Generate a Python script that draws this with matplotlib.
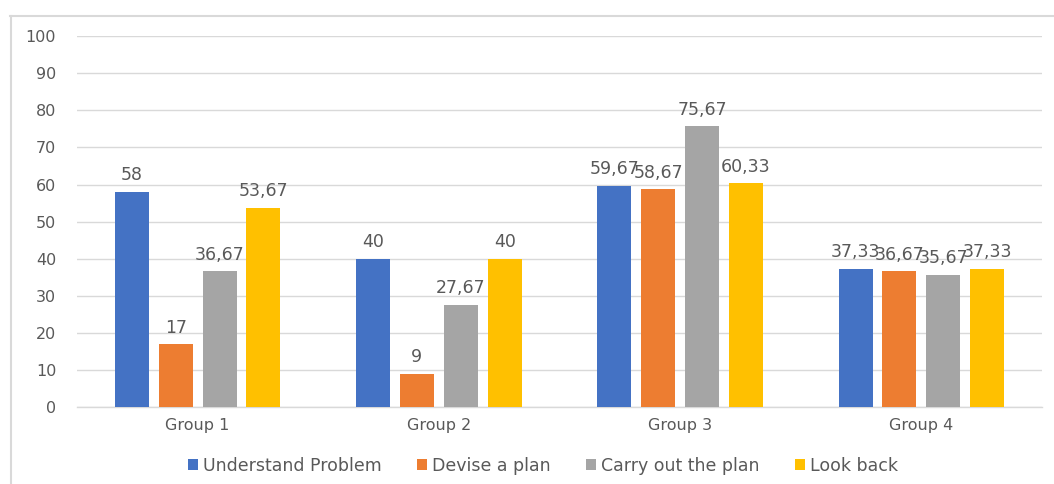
import matplotlib
matplotlib.use("Agg")
import matplotlib.pyplot as plt
from matplotlib.lines import Line2D
import numpy as np

plt.rcParams['font.family'] = ['DejaVu Sans']

groups = ["Group 1", "Group 2", "Group 3", "Group 4"]
series = ["Understand Problem", "Devise a plan", "Carry out the plan", "Look back"]
understand = [58, 40, 59.67, 37.33]
devise = [17, 9, 58.67, 36.67]
carry = [36.67, 27.67, 75.67, 35.67]
lookback = [53.67, 40, 60.33, 37.33]
values = [understand, devise, carry, lookback]
colors = ["#4472C4", "#ED7D31", "#A5A5A5", "#FFC000"]
yticks = [0, 10, 20, 30, 40, 50, 60, 70, 80, 90, 100]

W, H = 1054, 484
fig = plt.figure(figsize=(W / 100, H / 100), dpi=100)
ax = fig.add_axes([77 / W, (H - 407.3) / H, (1042 - 77) / W, (407.3 - 36) / H])

x = np.arange(len(groups))
step = 0.182
width = 0.141
offsets = (np.arange(len(series)) - 1.5) * step

def fmt(v):
    s = ("%.2f" % v).rstrip("0").rstrip(".")
    return s.replace(".", ",")

for i, (name, vals, col) in enumerate(zip(series, values, colors)):
    bars = ax.bar(x + offsets[i], vals, width, color=col, label=name, zorder=3)
    for b, v in zip(bars, vals):
        ax.annotate(fmt(v), (b.get_x() + b.get_width() / 2, v),
                    xytext=(0, 5.5), textcoords="offset points",
                    ha="center", va="bottom", fontsize=12.5, color="#595959", zorder=4)

ax.set_xlim(-0.5, 3.5)
ax.set_ylim(0, 100)
ax.set_yticks(yticks)
ax.set_xticks(x)
ax.set_xticklabels(groups)
ax.tick_params(axis="both", length=0, colors="#595959", labelsize=11.5)
ax.tick_params(axis="y", pad=15)
ax.tick_params(axis="x", pad=8)
ax.grid(axis="y", color="#D9D9D9", linewidth=1, zorder=0)
for s in ["top", "right", "left"]:
    ax.spines[s].set_visible(False)
ax.spines["bottom"].set_color("#D9D9D9")
ax.spines["bottom"].set_linewidth(1)

leg = fig.legend(loc="center", bbox_to_anchor=(543 / W, 1 - 466 / H), ncol=4,
                 frameon=False, fontsize=12.5, handlelength=0.6, handleheight=0.6,
                 handletextpad=0.3, columnspacing=2.0, labelcolor="#595959")

# outer chart border (top and left)
fig.add_artist(Line2D([10 / W, 1.0], [1 - 15.5 / H, 1 - 15.5 / H], transform=fig.transFigure,
                      color="#D9D9D9", linewidth=1.5))
fig.add_artist(Line2D([10.5 / W, 10.5 / W], [0, 1 - 15.5 / H], transform=fig.transFigure,
                      color="#D9D9D9", linewidth=1.5))

fig.savefig("out.png", dpi=100)
